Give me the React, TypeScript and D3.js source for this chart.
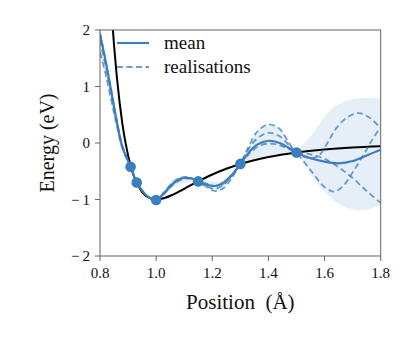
import React from 'react';
import * as d3 from 'd3';

const width = 415;
const height = 338;
const margin = { left: 100, right: 34.3, top: 30, bottom: 82 };

const blue = '#3b7ebf';
const font = 'Liberation Serif, serif';

// training points
const pointX = [0.909, 0.931, 1.0, 1.15, 1.3, 1.5];
const pointY = [-0.42, -0.7, -1.01, -0.68, -0.37, -0.17];

// true potential (black curve)
const trueX = [0.83, 0.84, 0.85, 0.86, 0.88, 0.9, 0.92, 0.95, 0.98, 1.0, 1.03, 1.06, 1.1, 1.15, 1.2, 1.25, 1.3, 1.4, 1.5, 1.6, 1.7, 1.8];
const trueY = [3.24, 2.41, 1.73, 1.17, 0.33, -0.22, -0.58, -0.87, -0.98, -1.0, -0.974, -0.913, -0.81, -0.678, -0.558, -0.456, -0.371, -0.248, -0.168, -0.116, -0.081, -0.058];

// GP mean
const meanX = [0.8, 0.82, 0.84, 0.86, 0.88, 0.909, 0.931, 0.96, 0.98, 1.0, 1.03, 1.06, 1.09, 1.12, 1.15, 1.18, 1.21, 1.24, 1.27, 1.3, 1.33, 1.36, 1.4, 1.44, 1.47, 1.5, 1.55, 1.6, 1.65, 1.7, 1.75, 1.8];
const meanY = [1.93, 1.45, 0.92, 0.38, -0.07, -0.42, -0.7, -0.9, -0.98, -1.01, -0.88, -0.72, -0.63, -0.62, -0.68, -0.74, -0.76, -0.7, -0.56, -0.37, -0.17, -0.03, 0.04, 0.0, -0.08, -0.17, -0.27, -0.33, -0.36, -0.32, -0.22, -0.12];

// realisations
const real1X = [0.8, 0.82, 0.84, 0.86, 0.88, 0.909, 0.931, 0.96, 0.98, 1.0, 1.03, 1.06, 1.09, 1.12, 1.15, 1.18, 1.21, 1.24, 1.27, 1.3, 1.33, 1.36, 1.4, 1.44, 1.47, 1.5, 1.55, 1.58, 1.61, 1.64, 1.68, 1.72, 1.76, 1.8];
const real1Y = [1.82, 1.36, 0.86, 0.34, -0.09, -0.42, -0.7, -0.9, -0.98, -1.01, -0.86, -0.7, -0.61, -0.61, -0.68, -0.77, -0.81, -0.74, -0.58, -0.37, -0.06, 0.2, 0.33, 0.25, 0.03, -0.17, -0.27, -0.22, 0.0, 0.25, 0.45, 0.53, 0.45, 0.26];
const real2X = [0.8, 0.82, 0.84, 0.86, 0.88, 0.909, 0.931, 0.96, 0.98, 1.0, 1.03, 1.06, 1.09, 1.12, 1.15, 1.18, 1.21, 1.24, 1.27, 1.3, 1.33, 1.36, 1.4, 1.44, 1.47, 1.5, 1.55, 1.6, 1.635, 1.67, 1.7, 1.74, 1.77, 1.8];
const real2Y = [1.6, 1.22, 0.76, 0.3, -0.1, -0.42, -0.7, -0.9, -0.98, -1.01, -0.89, -0.74, -0.65, -0.63, -0.68, -0.78, -0.85, -0.8, -0.62, -0.37, -0.1, 0.08, 0.18, 0.12, -0.02, -0.17, -0.48, -0.78, -0.86, -0.74, -0.52, -0.2, 0.06, 0.28];
const real3X = [0.8, 0.82, 0.84, 0.86, 0.88, 0.909, 0.931, 0.96, 0.98, 1.0, 1.03, 1.06, 1.09, 1.12, 1.15, 1.18, 1.21, 1.24, 1.27, 1.3, 1.33, 1.36, 1.4, 1.44, 1.47, 1.5, 1.55, 1.6, 1.65, 1.7, 1.75, 1.8];
const real3Y = [1.95, 1.47, 0.94, 0.4, -0.05, -0.42, -0.7, -0.9, -0.98, -1.01, -0.87, -0.71, -0.62, -0.63, -0.68, -0.72, -0.76, -0.72, -0.58, -0.37, -0.2, -0.07, -0.01, -0.04, -0.1, -0.17, -0.2, -0.28, -0.43, -0.62, -0.85, -1.06];

// uncertainty band
const bandX = [0.8, 0.84, 0.88, 0.909, 0.931, 1.0, 1.07, 1.15, 1.22, 1.3, 1.33, 1.36, 1.4, 1.44, 1.47, 1.5, 1.52, 1.554, 1.613, 1.67, 1.73, 1.8];
const bandLo = [1.55, 0.78, -0.12, -0.42, -0.7, -1.01, -0.75, -0.68, -0.86, -0.37, -0.3, -0.28, -0.22, -0.2, -0.19, -0.17, -0.3, -0.57, -0.92, -1.13, -1.19, -1.1];
const bandHi = [2.05, 0.98, -0.03, -0.42, -0.7, -1.01, -0.62, -0.68, -0.68, -0.37, -0.05, 0.2, 0.33, 0.26, 0.03, -0.17, -0.05, 0.14, 0.55, 0.73, 0.79, 0.79];

const xTicks = [0.8, 1.0, 1.2, 1.4, 1.6, 1.8];
const yTicks = [-2, -1, 0, 1, 2];

const App = () => {
  const x = d3.scaleLinear().domain([0.8, 1.8]).range([margin.left, width - margin.right]);
  const y = d3.scaleLinear().domain([-2, 2]).range([height - margin.bottom, margin.top]);

  const line = d3.line<[number, number]>()
    .x(d => x(d[0]))
    .y(d => y(d[1]))
    .curve(d3.curveCatmullRom.alpha(0.5));
  const trueLine = d3.line<[number, number]>()
    .x(d => x(d[0]))
    .y(d => y(d[1]))
    .curve(d3.curveMonotoneX);
  const area = d3.area<number>()
    .x((d, i) => x(bandX[i]))
    .y0((d, i) => y(bandLo[i]))
    .y1((d, i) => y(bandHi[i]))
    .curve(d3.curveMonotoneX);

  const zip = (a: number[], b: number[]) => a.map((v, i) => [v, b[i]] as [number, number]);
  const reals = [zip(real1X, real1Y), zip(real2X, real2Y), zip(real3X, real3Y)];

  const [x0, x1] = x.range();
  const [y0, y1] = [y(2), y(-2)];
  const fmtY = (v: number) => (v < 0 ? '\u2212\u2009' + Math.abs(v) : String(v));
  const txt = { fontFamily: font, fill: '#111' };

  return (
    <svg width={width} height={height} style={{ position: 'absolute', left: 0, top: 0 }}>
      <rect width={width} height={height} fill="white" />
      <defs>
        <clipPath id="plot">
          <rect x={x0} y={y0} width={x1 - x0} height={y1 - y0} />
        </clipPath>
      </defs>
      <g clipPath="url(#plot)">
        <path d={area(bandX) || ''} fill="#e6eef7" />
        <path d={trueLine(zip(trueX, trueY)) || ''} fill="none" stroke="black" strokeWidth={2} />
        {reals.map((r, i) => (
          <path key={i} d={line(r) || ''} fill="none" stroke={blue} strokeOpacity={0.75} strokeWidth={1.8} strokeDasharray="6,3.5" />
        ))}
        <path d={line(zip(meanX, meanY)) || ''} fill="none" stroke={blue} strokeWidth={2.1} />
        {pointX.map((px, i) => (
          <circle key={i} cx={x(px)} cy={y(pointY[i])} r={5.3} fill={blue} />
        ))}
      </g>

      {/* frame */}
      <rect x={x0} y={y0} width={x1 - x0} height={y1 - y0} fill="none" stroke="#555" strokeWidth={0.9} />

      {/* x axis */}
      {xTicks.map(t => (
        <g key={t}>
          <line x1={x(t)} x2={x(t)} y1={y1} y2={y1 + 5} stroke="#555" strokeWidth={0.9} />
          <text x={x(t)} y={y1 + 22} textAnchor="middle" fontSize={15} style={txt}>{t.toFixed(1)}</text>
        </g>
      ))}
      {/* y axis */}
      {yTicks.map(t => (
        <g key={t}>
          <line x1={x0 - 5} x2={x0} y1={y(t)} y2={y(t)} stroke="#555" strokeWidth={0.9} />
          <text x={x0 - 10} y={y(t) + 5} textAnchor="end" fontSize={15} style={txt}>{fmtY(t)}</text>
        </g>
      ))}

      <text x={(x0 + x1) / 2} y={309} textAnchor="middle" fontSize={21} style={{ ...txt, whiteSpace: 'pre' }}>{'Position  (Å)'}</text>
      <text transform={`translate(54, ${(y0 + y1) / 2}) rotate(-90)`} textAnchor="middle" fontSize={20} style={txt}>Energy (eV)</text>

      {/* legend */}
      <line x1={117} x2={149} y1={43} y2={43} stroke={blue} strokeWidth={2.1} />
      <text x={164} y={49} fontSize={19} style={txt}>mean</text>
      <line x1={117} x2={149} y1={67} y2={67} stroke={blue} strokeOpacity={0.75} strokeWidth={1.8} strokeDasharray="6,3.5" />
      <text x={164} y={73} fontSize={19} style={txt}>realisations</text>
    </svg>
  );
};

export default App;
